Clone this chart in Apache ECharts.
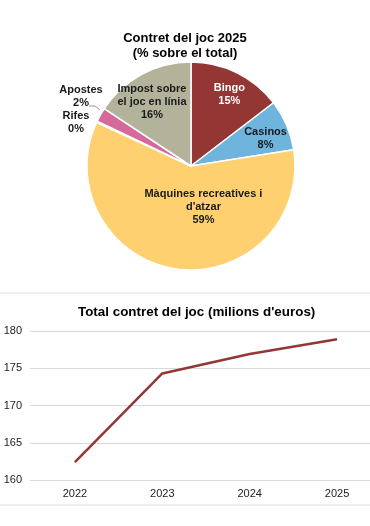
<!DOCTYPE html>
<html><head><meta charset="utf-8">
<script src="https://cdn.jsdelivr.net/npm/echarts@6/dist/echarts.min.js"></script>
<style>html,body{margin:0;padding:0;background:#fff}#c{width:370px;height:526px}</style>
</head><body><div id="c"></div>
<script>
const pieCategories = ['Bingo','Casinos',"Màquines recreatives i\nd'atzar",'Rifes','Apostes','Impost sobre\nel joc en línia'];
const pieValues = [14.6, 7.9, 59.4, 0.2, 2.2, 15.7];
const years = [2022, 2023, 2024, 2025];
const totals = [162.4, 174.3, 176.9, 178.9];
const yTicks = [160,165,170,175,180];

const colors = ['#943634','#6FB4DC','#FFD070','#C0504D','#D4699A','#B3B39B'];
const labelStyle = {
  'Bingo': {color:'#fff', offset:[14,-22]},
  'Casinos': {color:'#1a1a1a', offset:[24,-6]},
  "Màquines recreatives i\nd'atzar": {color:'#1a1a1a', offset:[20,-14]},
  'Impost sobre\nel joc en línia': {color:'#1a1a1a', offset:[-13,-16]}
};
const outsideLabelPos = {
  'Apostes': {x:81, y:96, line:[[89,106],[95,106],[100,110]]},
  'Rifes': {x:76, y:122}
};
const total = pieValues.reduce((a,b)=>a+b,0);
const pieData = pieCategories.map((n,i)=>{
  const d = {name:n, value:pieValues[i], itemStyle:{color:colors[i]}};
  if (labelStyle[n]) {
    d.label = {position:'inside', color:labelStyle[n].color, offset:labelStyle[n].offset};
  } else {
    d.label = {position:'outside', color:'#1a1a1a'};
    d.labelLine = {show: n==='Apostes', length:4, length2:3, lineStyle:{color:'#999', width:1}};
  }
  return d;
});

const chart = echarts.init(document.getElementById('c'), null, {renderer:'canvas'});
chart.setOption({
  animation:false,
  textStyle:{fontFamily:'Liberation Sans, Arial, sans-serif'},
  title:[
    {text:"Contret del joc 2025\n(% sobre el total)", left:'center', top:26,
     textStyle:{fontSize:13, fontWeight:'bold', color:'#000', lineHeight:15, fontFamily:'Liberation Sans'}},
    {text:"Total contret del joc (milions d'euros)", left:73, top:301,
     textStyle:{fontSize:13.4, fontWeight:'bold', color:'#000', fontFamily:'Liberation Sans'}}
  ],
  graphic:[
    {type:'line', shape:{x1:0,y1:293,x2:370,y2:293}, style:{stroke:'#e0e0e0', lineWidth:1}},
    {type:'line', shape:{x1:0,y1:505,x2:370,y2:505}, style:{stroke:'#e0e0e0', lineWidth:1}}
  ],
  grid:{left:30, top:331, right:0, height:149},
  xAxis:{type:'value', min:2021.486, max:2025.377,
    axisLine:{show:false}, axisTick:{show:false}, splitLine:{show:false},
    axisLabel:{color:'#222', fontSize:11, margin:8, fontFamily:'Liberation Sans',
      customValues:years, formatter:v=>String(v)}},
  yAxis:{type:'value', min:160, max:180, interval:5,
    axisLine:{show:false}, axisTick:{show:false},
    splitLine:{lineStyle:{color:'#d9d9d9'}},
    axisLabel:{color:'#222', fontSize:11, margin:8, fontFamily:'Liberation Sans',
      formatter:v=>yTicks.includes(v)?String(v):''}},
  series:[
    {type:'pie', center:[191,166], radius:[0,104], startAngle:90, clockwise:true,
     avoidLabelOverlap:false, minAngle:0,
     itemStyle:{borderColor:'#fff', borderWidth:1.5},
     label:{fontSize:11, fontWeight:'bold', lineHeight:13, fontFamily:'Liberation Sans',
       formatter:p=>p.name+'\n'+Math.round(p.value/total*100)+'%'},
     labelLayout:function(p){
       const n = pieCategories[p.dataIndex];
       const o = outsideLabelPos[n];
       if (!o) return {};
       const r = {x:o.x, y:o.y, align:'center', verticalAlign:'middle'};
       if (o.line) r.labelLinePoints = o.line;
       return r;
     },
     data:pieData},
    {type:'line', data:years.map((y,i)=>[y,totals[i]]), symbol:'none',
     lineStyle:{color:'#943634', width:2.5}, itemStyle:{color:'#943634'}}
  ]
});
</script></body></html>
